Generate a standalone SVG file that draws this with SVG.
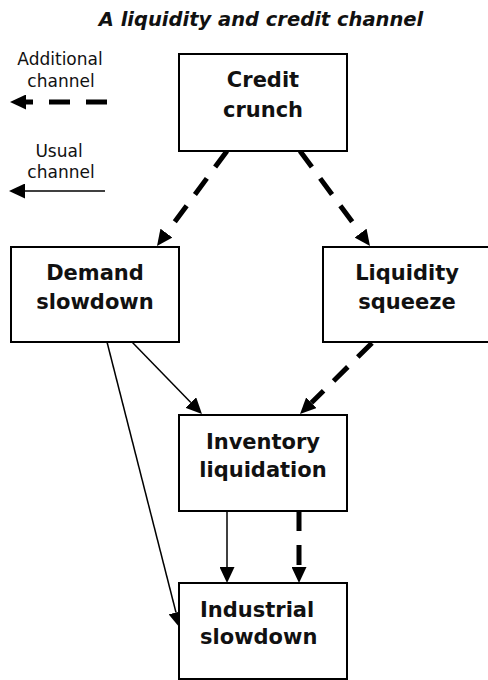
<svg xmlns="http://www.w3.org/2000/svg" width="488" height="680" viewBox="0 0 488 680">
  <style>
    .box { fill: #ffffff; stroke: #000000; stroke-width: 2; }
    .lbl { font-family: "DejaVu Sans", "Liberation Sans", sans-serif; font-size: 21px; font-weight: bold; fill: #111111; text-anchor: middle; }
    .lbl.start { text-anchor: start; }
    .leg { font-family: "DejaVu Sans", "Liberation Sans", sans-serif; font-size: 17px; fill: #111111; text-anchor: middle; }
    .title { font-family: "DejaVu Sans", "Liberation Sans", sans-serif; font-size: 19.5px; font-weight: bold; font-style: italic; fill: #111111; text-anchor: middle; }
    .thin { fill: none; stroke: #000000; stroke-width: 1.5; }
    .dash { fill: none; stroke: #000000; stroke-width: 5; stroke-dasharray: 20 14; }
  </style>
  <defs>
    <marker id="ah" viewBox="0 0 16 15" refX="0" refY="7.5" markerWidth="16" markerHeight="15" markerUnits="userSpaceOnUse" orient="auto">
      <path d="M0,0 L16,7.5 L0,15 Z" fill="#000000"/>
    </marker>
  </defs>
  <rect width="488" height="680" fill="#ffffff"/>
  <text class="title" x="261" y="26">A liquidity and credit channel</text>

  <g id="legend">
    <text class="leg" x="60" y="65">Additional</text>
    <text class="leg" x="61" y="87">channel</text>
    <line x1="107" y1="102" x2="26" y2="102" stroke="#000" stroke-width="5" stroke-dasharray="21 16" marker-end="url(#ah)"/>
    <text class="leg" x="59" y="157">Usual</text>
    <text class="leg" x="61" y="178">channel</text>
    <line x1="105" y1="191" x2="25" y2="191" stroke="#000" stroke-width="1.5" marker-end="url(#ah)"/>
  </g>

  <g id="connectors">
    <line class="dash" x1="227" y1="151" x2="166.5" y2="233.1" marker-end="url(#ah)"/>
    <line class="dash" x1="300" y1="151" x2="360.5" y2="233.1" marker-end="url(#ah)"/>
    <line class="dash" x1="372" y1="343" x2="311.4" y2="402.8" marker-end="url(#ah)"/>
    <line class="dash" x1="299" y1="511" x2="299" y2="567" marker-end="url(#ah)"/>
    <line class="thin" x1="132" y1="342" x2="190.8" y2="402.5" marker-end="url(#ah)"/>
    <line class="thin" x1="107" y1="342" x2="176" y2="612.5" marker-end="url(#ah)"/>
    <line class="thin" x1="227" y1="511" x2="227" y2="567" marker-end="url(#ah)"/>
  </g>

  <g id="credit-crunch">
    <rect class="box" x="179" y="54" width="168" height="97"/>
    <text class="lbl" x="263" y="87">Credit</text>
    <text class="lbl" x="263" y="117">crunch</text>
  </g>
  <g id="demand-slowdown">
    <rect class="box" x="11" y="247" width="168" height="95"/>
    <text class="lbl" x="95" y="280">Demand</text>
    <text class="lbl" x="95" y="309">slowdown</text>
  </g>
  <g id="liquidity-squeeze">
    <rect class="box" x="323" y="247" width="170" height="95"/>
    <text class="lbl" x="407" y="280">Liquidity</text>
    <text class="lbl" x="407" y="309">squeeze</text>
  </g>
  <g id="inventory-liquidation">
    <rect class="box" x="179" y="415" width="168" height="96"/>
    <text class="lbl" x="263" y="449">Inventory</text>
    <text class="lbl" x="263" y="477">liquidation</text>
  </g>
  <g id="industrial-slowdown">
    <rect class="box" x="179" y="583" width="168" height="96"/>
    <text class="lbl start" x="200" y="617">Industrial</text>
    <text class="lbl start" x="200" y="644">slowdown</text>
  </g>
</svg>
